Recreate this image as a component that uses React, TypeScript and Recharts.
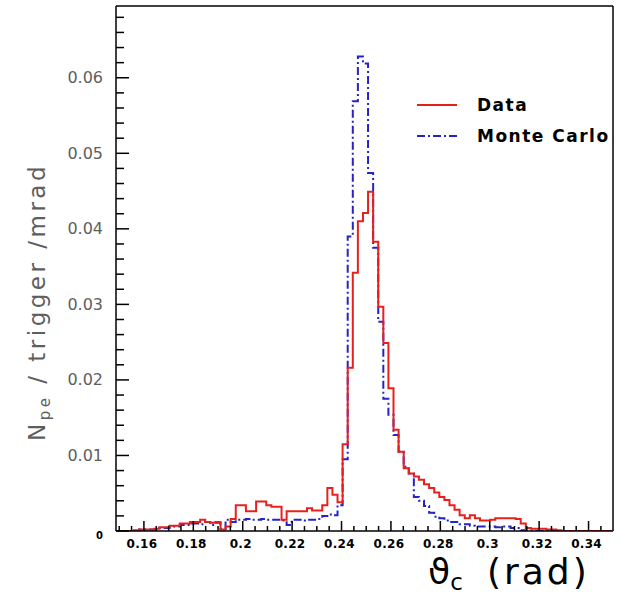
import React from 'react';
import { LineChart, Line, XAxis, YAxis, ReferenceLine, Legend } from 'recharts';

// Histogram binning (rad)
const binStart = 0.1498;
const binWidth = 0.00206;

// Data (red, solid) per bin, N_pe / trigger / mrad
const dataValues = [
  0, 0, 0, 0.0001, 0.0002, 0.0002, 0.0002, 0.0003, 0.0005, 0.0005,
  0.0007, 0.0007, 0.001, 0.001, 0.0012, 0.0012, 0.0015, 0.0012, 0.0011, 0.0012,
  0.0002, 0.0006, 0.0016, 0.0034, 0.0034, 0.0026, 0.0026, 0.0039, 0.0039, 0.0034,
  0.0032, 0.0032, 0.0015, 0.0026, 0.0026, 0.0026, 0.0026, 0.003, 0.0027, 0.0027,
  0.0034, 0.0057, 0.0048, 0.0038, 0.0115, 0.0216, 0.0342, 0.041, 0.0421, 0.0449,
  0.0383, 0.0297, 0.0249, 0.0189, 0.0134, 0.0105, 0.0083, 0.0076, 0.0072, 0.0068,
  0.0062, 0.0057, 0.0051, 0.0045, 0.0041, 0.0034, 0.0028, 0.0021, 0.0017, 0.0021,
  0.0017, 0.0014, 0.0014, 0.0015, 0.0017, 0.0017, 0.0017, 0.0017, 0.0016, 0.001,
  0.0004, 0.0003, 0.0003, 0.0003, 0.0002, 0.0002, 0.0001, 0, 0, 0,
  0, 0, 0, 0, 0, 0, 0,
];

// Monte Carlo (blue, dash-dot) per bin
const mcValues = [
  0, 0, 0, 0, 0.0002, 0.0002, 0.0002, 0.0002, 0.0004, 0.0004,
  0.0006, 0.0006, 0.0008, 0.0008, 0.001, 0.001, 0.0009, 0.0012, 0.0008, 0.0011,
  0.0003, 0.0015, 0.0012, 0.0015, 0.0015, 0.0016, 0.0015, 0.0015, 0.0016, 0.0015,
  0.0015, 0.0015, 0.0014, 0.0008, 0.0015, 0.0015, 0.0014, 0.0015, 0.0015, 0.0016,
  0.002, 0.0022, 0.0021, 0.0034, 0.0095, 0.039, 0.0569, 0.0628, 0.0619, 0.0474,
  0.0375, 0.0277, 0.0175, 0.0154, 0.0127, 0.0105, 0.0085, 0.0076, 0.0045, 0.004,
  0.0033, 0.0024, 0.0019, 0.0017, 0.0014, 0.0012, 0.0012, 0.0009, 0.0009, 0.0007,
  0.0006, 0.0006, 0.0006, 0.0006, 0.0005, 0.0006, 0.0006, 0.0004, 0.0004, 0.0001,
  0, 0, 0, 0, 0, 0, 0, 0, 0, 0,
  0, 0, 0, 0, 0, 0, 0,
];

const xMajorTicks = [0.16, 0.18, 0.2, 0.22, 0.24, 0.26, 0.28, 0.3, 0.32, 0.34];
const xTickLabels = ['0.16', '0.18', '0.2', '0.22', '0.24', '0.26', '0.28', '0.3', '0.32', '0.34'];
const yMajorTicks = [0, 0.01, 0.02, 0.03, 0.04, 0.05, 0.06];
const yTickLabels = ['0', '0.01', '0.02', '0.03', '0.04', '0.05', '0.06'];

const xMin = 0.1487;
const xMax = 0.3499;
const yMax = 0.0695;

const seriesNames = ['Data', 'Monte Carlo'];

const rows: { x: number; data: number; mc: number }[] = dataValues.map((v, i) => ({
  x: binStart + i * binWidth,
  data: v,
  mc: mcValues[i],
}));
rows.push({
  x: binStart + dataValues.length * binWidth,
  data: dataValues[dataValues.length - 1],
  mc: mcValues[mcValues.length - 1],
});

const xTicks: number[] = [];
for (let i = 0; i <= 39; i++) xTicks.push(Math.round((0.15 + i * 0.005) * 10000) / 10000);
const yTicks: number[] = [];
for (let i = 0; i <= 34; i++) yTicks.push(Math.round(i * 0.002 * 10000) / 10000);

const near = (a: number, b: number) => Math.abs(a - b) < 1e-6;

const XTick = (props: any) => {
  const { x, y, payload } = props;
  const idx = xMajorTicks.findIndex((t) => near(t, payload.value));
  const major = idx >= 0;
  return (
    <g>
      <line x1={x} y1={y} x2={x} y2={y - (major ? 10 : 5)} stroke="#000" strokeWidth={1.5} />
      {major && (
        <text
          x={x - 2}
          y={y + 13}
          textAnchor="middle"
          dominantBaseline="central"
          fontFamily="DejaVu Sans"
          fontWeight="bold"
          fontSize={12}
          letterSpacing={0.3}
          fill="#000"
        >
          {xTickLabels[idx]}
        </text>
      )}
    </g>
  );
};

const YTick = (props: any) => {
  const { x, y, payload } = props;
  const idx = yMajorTicks.findIndex((t) => near(t, payload.value));
  const major = idx >= 0;
  return (
    <g>
      <line x1={x} y1={y} x2={x + (major ? 13 : 8)} y2={y} stroke="#000" strokeWidth={1.5} />
      {major && idx === 0 && (
        <text x={x - 13} y={y + 4} textAnchor="end" dominantBaseline="central" fontFamily="DejaVu Sans" fontWeight="bold" fontSize={10} fill="#000">
          {yTickLabels[idx]}
        </text>
      )}
      {major && idx > 0 && (
        <text x={x - 13} y={y} textAnchor="end" dominantBaseline="central" fontFamily="DejaVu Sans" fontSize={16} fill="#5e5e5e">
          {yTickLabels[idx]}
        </text>
      )}
    </g>
  );
};

const YTitle = () => (
  <text
    transform="translate(45, 302) rotate(-90)"
    textAnchor="middle"
    fontFamily="DejaVu Sans"
    fontSize={23}
    fill="#5e5e5e"
    letterSpacing={3.5}
  >
    N<tspan fontSize={15} dy={5}>pe</tspan>
    <tspan dy={-5}> / trigger /mrad</tspan>
  </text>
);

const XTitle = () => (
  <text x={428} y={584} fontFamily="DejaVu Sans" fontSize={36} fill="#000">
    ϑ<tspan fontSize={23} dy={6}>c</tspan>
    <tspan dy={-6} dx={24} letterSpacing={3}>(rad)</tspan>
  </text>
);

const LegendBox = () => (
  <svg width={215} height={62}>
    <line x1={7} y1={15} x2={47} y2={15} stroke="#e8201c" strokeWidth={2} />
    <text x={67} y={15} dominantBaseline="central" fontFamily="DejaVu Sans" fontWeight="bold" fontSize={17} letterSpacing={1.5} fill="#000">
      {seriesNames[0]}
    </text>
    <line x1={7} y1={46} x2={47} y2={46} stroke="#2323c8" strokeWidth={2} strokeDasharray="8 3 2 3" />
    <text x={67} y={46} dominantBaseline="central" fontFamily="DejaVu Sans" fontWeight="bold" fontSize={17} letterSpacing={1.5} fill="#000">
      {seriesNames[1]}
    </text>
  </svg>
);

export default function App() {
  return (
    <div style={{ position: 'absolute', left: 0, top: 0, background: '#fff' }}>
      <LineChart width={628} height={597} data={rows} margin={{ top: 6, right: 15, bottom: 0, left: 0 }}>
        <XAxis
          dataKey="x"
          type="number"
          domain={[xMin, xMax]}
          ticks={xTicks}
          interval={0}
          allowDataOverflow
          height={66}
          tickSize={0}
          tickMargin={0}
          tickLine={false}
          tick={<XTick />}
          axisLine={{ stroke: '#000', strokeWidth: 1.5 }}
          label={{ content: () => <XTitle /> }}
        />
        <YAxis
          type="number"
          domain={[0, yMax]}
          ticks={yTicks}
          interval={0}
          allowDataOverflow
          width={116}
          tickSize={0}
          tickMargin={0}
          tickLine={false}
          tick={<YTick />}
          axisLine={{ stroke: '#000', strokeWidth: 1.5 }}
          label={{ content: () => <YTitle /> }}
        />
        <ReferenceLine y={yMax} stroke="#000" strokeWidth={1.5} />
        <ReferenceLine x={xMax} stroke="#000" strokeWidth={1.5} />
        <Legend
          layout="horizontal"
          verticalAlign="middle"
          align="center"
          content={() => <LegendBox />}
          wrapperStyle={{ position: 'absolute', left: 410, top: 90, width: 215, height: 62 }}
        />
        <Line
          type="stepAfter"
          dataKey="mc"
          name={seriesNames[1]}
          stroke="#2323c8"
          strokeWidth={2}
          strokeDasharray="8 3 2 3"
          dot={false}
          activeDot={false}
          isAnimationActive={false}
        />
        <Line
          type="stepAfter"
          dataKey="data"
          name={seriesNames[0]}
          stroke="#e8201c"
          strokeWidth={2}
          dot={false}
          activeDot={false}
          isAnimationActive={false}
        />
      </LineChart>
    </div>
  );
}
